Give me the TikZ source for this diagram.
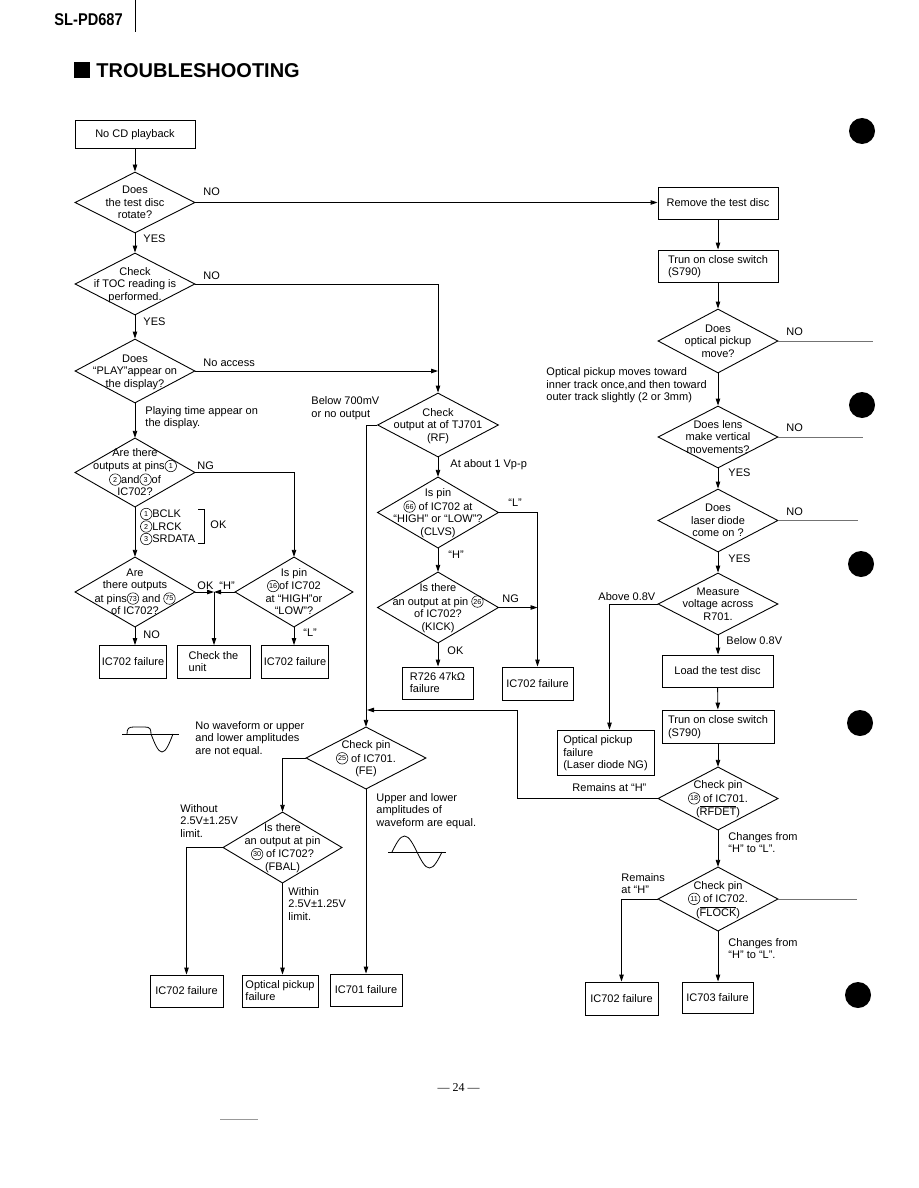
\documentclass[tikz,border=0pt]{standalone}
\usepackage{fontspec}
\usepackage{graphicx}
\setmainfont{Liberation Sans}
\newfontfamily\pnfont{Liberation Serif}
\usetikzlibrary{shapes.geometric,arrows.meta}
\newcommand\fs{\fontsize{11}{12.5}\selectfont}
\newcommand\tb[2][c]{\makebox[0pt]{\smash{\raisebox{-3.8pt}{\begin{tabular}{@{}#1@{}}#2\end{tabular}}}}}
\newcommand\cn[1]{\tikz[baseline=-3.8pt]\node[circle,draw,line width=0.55pt,inner sep=0pt,minimum size=11.5pt,font=\fontsize{7.2}{7.2}\selectfont]{#1};}
\tikzset{
  box/.style={draw, rectangle, inner sep=0pt, font=\fs},
  dia/.style={draw, diamond, inner sep=0pt, font=\fs},
  lab/.style={inner sep=0pt, anchor=west, align=left, font=\fs},
  stub/.style={line width=0.6pt, black!55},
  hole/.style={fill=black, circle, minimum size=26pt, inner sep=0pt},
}
\begin{document}
\begin{tikzpicture}[x=1pt, y=-1pt, line width=0.9pt, >={Triangle[length=7pt,width=4.5pt]}]
\fill[white] (0,0) rectangle (918,1188);
\useasboundingbox (0,0) rectangle (918,1188);

% header
\node[inner sep=0pt, anchor=west, font=\bfseries\fontsize{17}{17}\selectfont] (hdr) at (54,20) {\scalebox{0.86}[1]{SL-PD687}};
\draw[line width=0.8pt] (135,0) -- (135,32);
\node[fill=black, minimum size=16pt, inner sep=0pt] (sq) at (82,70) {};
\node[anchor=west, inner sep=0pt, font=\bfseries\fontsize{20}{20}\selectfont] (title) at (96,70.5) {TROUBLESHOOTING};

% punch holes
\node[hole] (h1) at (862,131) {};
\node[hole] (h2) at (862,405) {};
\node[hole] (h3) at (861,564) {};
\node[hole] (h4) at (860,723) {};
\node[hole] (h5) at (858,995) {};

% ---------- left column ----------
\node[box, minimum width=120pt, minimum height=28pt] (bStart) at (135,134) {\tb{No CD playback}};
\node[dia, minimum width=120pt, minimum height=61pt] (d1) at (135,202.5) {\tb{Does\\the test disc\\rotate?}};
\node[dia, minimum width=120pt, minimum height=62pt] (d2) at (135,284) {\tb{Check\\if TOC reading is\\performed.}};
\node[dia, minimum width=120pt, minimum height=64pt] (d3) at (135,371) {\tb{Does\\“PLAY”appear on\\the display?}};
\node[dia, minimum width=120pt, minimum height=69pt] (d4) at (135,472.5) {\tb{Are there\\outputs at pins\cn{1}\\\cn{2}and\cn{3}of\\IC702?}};
\node[dia, minimum width=120pt, minimum height=70pt] (d5) at (135,592) {\tb{Are\\there outputs\\at pins\cn{73} and \cn{75}\\of IC702?}};
\node[dia, minimum width=118pt, minimum height=70pt] (d6) at (294,592) {\tb{Is pin\\\cn{16}of IC702\\at “HIGH”or\\“LOW”?}};
\coordinate (J1) at (214,592);
\node[box, minimum width=67pt, minimum height=33pt] (bF1) at (133,662) {\tb{IC702 failure}};
\node[box, minimum width=73pt, minimum height=33pt] (bCheck) at (213.5,662) {\tb[l]{Check the\\unit}};
\node[box, minimum width=67pt, minimum height=33pt] (bF1b) at (295,662) {\tb{IC702 failure}};

% ---------- middle column ----------
\node[dia, minimum width=121pt, minimum height=64pt] (d7) at (438,425) {\tb{Check\\output at of TJ701\\(RF)}};
\node[dia, minimum width=121pt, minimum height=71pt] (d8) at (438,512.5) {\tb{Is pin\\\cn{66} of IC702 at\\“HIGH” or “LOW”?\\(CLVS)}};
\node[dia, minimum width=121pt, minimum height=71pt] (d9) at (438,607.5) {\tb{Is there\\an output at pin \cn{26}\\of IC702?\\(KICK)}};
\node[box, minimum width=71pt, minimum height=32pt] (bR726) at (437.5,683) {\tb[l]{R726 47kΩ\\failure}};
\node[box, minimum width=71pt, minimum height=33pt] (bF2) at (537.5,683.5) {\tb{IC702 failure}};

% ---------- lower left ----------
\node[dia, minimum width=120pt, minimum height=62pt] (d10) at (366,758) {\tb{Check pin\\\cn{25} of IC701.\\(FE)}};
\node[dia, minimum width=119pt, minimum height=71pt] (d11) at (282.5,847.5) {\tb{Is there\\an output at pin\\\cn{30} of IC702?\\(FBAL)}};
\node[box, minimum width=73pt, minimum height=32pt] (bF3) at (186.5,991) {\tb{IC702 failure}};
\node[box, minimum width=76pt, minimum height=32pt] (bOP) at (280,991) {\tb[l]{Optical pickup\\failure}};
\node[box, minimum width=72pt, minimum height=32pt] (bF4) at (366,990) {\tb{IC701 failure}};
\coordinate (K1) at (517,710);

% ---------- right column ----------
\node[box, minimum width=120pt, minimum height=32pt] (bRemove) at (718,203) {\tb{Remove the test disc}};
\node[box, minimum width=120pt, minimum height=32pt] (bSw1) at (718,266) {\tb[l]{Trun on close switch\\(S790)}};
\node[dia, minimum width=120pt, minimum height=64pt] (d12) at (718,341) {\tb{Does\\optical pickup\\move?}};
\node[dia, minimum width=120pt, minimum height=62pt] (d13) at (718,437) {\tb{Does lens\\make vertical\\movements?}};
\node[dia, minimum width=120pt, minimum height=63pt] (d14) at (718,520.5) {\tb{Does\\laser diode\\come on ?}};
\node[dia, minimum width=120pt, minimum height=62pt] (d15) at (718,604) {\tb{Measure\\voltage across\\R701.}};
\node[box, minimum width=111pt, minimum height=32pt] (bLoad) at (717.5,671) {\tb{Load the test disc}};
\node[box, minimum width=112pt, minimum height=33pt] (bSw2) at (718,726.5) {\tb[l]{Trun on close switch\\(S790)}};
\node[box, minimum width=97pt, minimum height=45pt] (bOPF) at (605.5,752.5) {\tb[l]{Optical pickup\\failure\\(Laser diode NG)}};
\node[dia, minimum width=120pt, minimum height=63pt] (d16) at (718,798.5) {\tb{Check pin\\\cn{18} of IC701.\\($\overline{\mbox{RFDET}}$)}};
\node[dia, minimum width=120pt, minimum height=64pt] (d17) at (718,899) {\tb{Check pin\\\cn{11} of IC702.\\($\overline{\mbox{FLOCK}}$)}};
\node[box, minimum width=73pt, minimum height=33pt] (bF5) at (621.5,998.5) {\tb{IC702 failure}};
\node[box, minimum width=71pt, minimum height=31pt] (bF6) at (717.5,997.5) {\tb{IC703 failure}};
\coordinate (S1) at (873,341);
\coordinate (S2) at (863,437);
\coordinate (S3) at (858,520.5);
\coordinate (S4) at (857,899);

% ---------- connectors ----------
\draw[->] (bStart) -- (d1);
\draw[->] (d1) -- (d2);
\draw[->] (d2) -- (d3);
\draw[->] (d3) -- (d4);
\draw[->] (d4) -- (d5);
\draw[->] (d5.south) -- (d5.south |- bF1.north);
\draw[->] (d1.east) -- (d1.east -| bRemove.west);
\draw[->] (d2.east) -| (d7.north);
\draw[->] (d3.east) -- (d3.east -| d7.north);
\draw[->] (d4.east) -| (d6.north);
\draw[->] (d5.east) -- (J1);
\draw[->] (d6.west) -- (J1);
\draw[->] (J1) -- (J1 |- bCheck.north);
\draw[->] (d6.south) -- (d6.south |- bF1b.north);
\draw[->] (d7) -- (d8);
\draw[->] (d8) -- (d9);
\draw[->] (d9.south) -- (d9.south |- bR726.north);
\draw[->] (d8.east) -| (bF2.north);
\draw[->] (d9.east) -- (d9.east -| bF2.north);
\draw[->] (d7.west) -| (d10.north);
\draw[->] (d10.west) -| (d11.north);
\draw[->] (d10.south) -- (d10.south |- bF4.north);
\draw[->] (d11.west) -| (bF3.north);
\draw[->] (d11.south) -- (d11.south |- bOP.north);
\draw[->] (bRemove) -- (bSw1);
\draw[->] (bSw1) -- (d12);
\draw[->] (d12) -- (d13);
\draw[->] (d13) -- (d14);
\draw[->] (d14) -- (d15);
\draw[->] (d15.south) -- (d15.south |- bLoad.north);
\draw[->] (bLoad) -- (bSw2);
\draw[->] (bSw2) -- (d16);
\draw[->] (d15.west) -| ([xshift=4pt]bOPF.north);
\draw[->] (d16.west) -| (K1) -- ([xshift=1pt]K1 -| d10.north);
\draw[->] (d16) -- (d17);
\draw[->] (d17.west) -| (bF5.north);
\draw[->] (d17.south) -- (d17.south |- bF6.north);
\draw[stub] (d12.east) -- (S1);
\draw[stub] (d13.east) -- (S2);
\draw[stub] (d14.east) -- (S3);
\draw[stub] (d17.east) -- (S4);

% ---------- labels ----------
\node[lab] (lNO1) at (203,192) {NO};
\node[lab] (lYES1) at (143,239) {YES};
\node[lab] (lNO2) at (203,276) {NO};
\node[lab] (lYES2) at (143,322) {YES};
\node[lab] (lNA) at (203,363) {No access};
\node[lab] (lPT) at (145,417.5) {Playing time appear on\\the display.};
\node[lab] (lNG1) at (197,466) {NG};
\node[lab] (lPins) at (140,526.5) {\cn{1}BCLK\\\cn{2}LRCK\\\cn{3}SRDATA};
\draw[line width=0.7pt] (198,509) -- (204,509) -- (204,543) -- (198,543);
\node[lab] (lOK1) at (210,525) {OK};
\node[lab] (lOKH) at (197,586) {OK\ \ “H”};
\node[lab] (lNO5) at (143,635) {NO};
\node[lab] (lL6) at (303,633) {“L”};
\node[lab] (lB700) at (311,408) {Below 700mV\\or no output};
\node[lab] (lAt1) at (450,465) {At about 1 Vp-p};
\node[lab] (lL8) at (508,503) {“L”};
\node[lab] (lH8) at (448,555) {“H”};
\node[lab] (lNG9) at (502,599) {NG};
\node[lab] (lOK9) at (447,651) {OK};
\node[lab] (lNO12) at (786,332) {NO};
\node[lab] (lOPM) at (546,385.5) {Optical pickup moves toward\\inner track once,and then toward\\outer track slightly (2 or 3mm)};
\node[lab] (lNO13) at (786,428) {NO};
\node[lab] (lYES13) at (728,473) {YES};
\node[lab] (lNO14) at (786,512) {NO};
\node[lab] (lYES14) at (728,559) {YES};
\node[lab] (lA08) at (598,597) {Above 0.8V};
\node[lab] (lB08) at (726,641) {Below 0.8V};
\node[lab] (lRH1) at (572,788) {Remains at “H”};
\node[lab] (lCH1) at (728,842.5) {Changes from\\“H” to “L”.};
\node[lab] (lRH2) at (621,883.5) {Remains\\at “H”};
\node[lab] (lCH2) at (728,948.5) {Changes from\\“H” to “L”.};
\node[lab] (lNW) at (195,739) {No waveform or upper\\and lower amplitudes\\are not equal.};
\node[lab] (lUL) at (376,811) {Upper and lower\\amplitudes of\\waveform are equal.};
\node[lab] (lWO) at (180,821) {Without\\2.5V±1.25V\\limit.};
\node[lab] (lWI) at (288,904) {Within\\2.5V±1.25V\\limit.};

% ---------- waveforms ----------
\draw[line width=0.8pt] (122,734) -- (179,734);
\draw[line width=0.8pt] (127,734) .. controls (127,728) and (129,727) .. (134,727) -- (145,727) .. controls (150,727) and (151,729) .. (151,734) sin (162,752) cos (173,734);
\draw[line width=0.8pt] (388,852) -- (446,852);
\draw[line width=0.8pt] (392,852) sin (404.5,836) cos (417,852) sin (429.5,868) cos (442,852);

% page number and marks
\node[inner sep=0pt, font=\pnfont\fontsize{12}{12}\selectfont] (pg) at (458.5,1088) {— 24 —};
\draw[line width=0.5pt, black!40] (220,1119) -- (258,1119);
\end{tikzpicture}
\end{document}
